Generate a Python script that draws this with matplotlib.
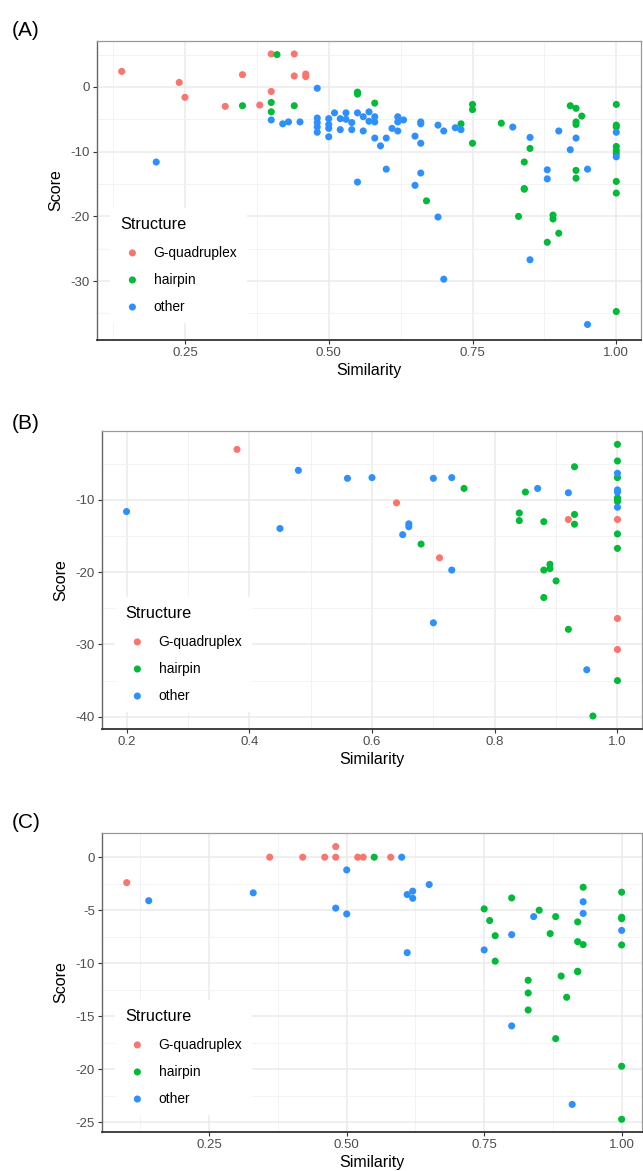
import numpy as np
import matplotlib.pyplot as plt
from matplotlib.ticker import MultipleLocator

plt.rcParams['font.family'] = ['Liberation Sans', 'DejaVu Sans']
plt.rcParams['axes.unicode_minus'] = False

# panel A
a_gq_sim = [0.14, 0.24, 0.25, 0.32, 0.35, 0.38, 0.40, 0.40, 0.44, 0.44, 0.46, 0.46]
a_gq_score = [2.4, 0.7, -1.6, -3.0, 1.9, -2.8, 5.1, -0.7, 5.1, 1.7, 2.0, 1.6]
a_hp_sim = [0.41, 0.35, 0.40, 0.40, 0.44, 0.55, 0.55, 0.58, 0.75, 0.75, 0.75, 0.73, 0.80,
            0.67, 0.85, 0.84, 0.84, 0.84, 0.83, 0.89, 0.89, 0.88, 0.90, 0.92, 0.93, 0.94,
            0.93, 0.93, 0.93, 0.93, 1.00, 1.00, 1.00, 1.00, 1.00, 1.00, 1.00, 1.00, 1.00]
a_hp_score = [5.0, -2.9, -2.4, -3.85, -2.9, -0.8, -1.1, -2.5, -2.7, -3.5, -8.7, -5.7, -5.6,
              -17.6, -9.5, -11.6, -15.7, -15.8, -20.0, -19.8, -20.4, -24.0, -22.6, -2.9, -3.3, -4.5,
              -5.4, -5.8, -12.9, -14.1, -2.7, -5.9, -6.2, -9.2, -9.8, -10.3, -14.6, -16.4, -34.7]
a_ot_sim = [0.20, 0.48, 0.40, 0.42, 0.43, 0.45, 0.48, 0.48, 0.48, 0.48, 0.50, 0.50, 0.50,
            0.50, 0.51, 0.52, 0.52, 0.53, 0.53, 0.54, 0.54, 0.55, 0.56, 0.56, 0.55, 0.57,
            0.57, 0.58, 0.58, 0.58, 0.59, 0.60, 0.61, 0.62, 0.62, 0.62, 0.63, 0.60, 0.65,
            0.66, 0.66, 0.66, 0.66, 0.65, 0.69, 0.70, 0.72, 0.73, 0.69, 0.70, 0.82, 0.85,
            0.88, 0.88, 0.85, 0.90, 0.92, 0.93, 0.95, 0.95, 1.00, 1.00]
a_ot_score = [-11.6, -0.2, -5.1, -5.7, -5.4, -5.4, -4.8, -5.5, -6.2, -7.0, -4.9, -5.8, -6.4,
              -7.7, -4.0, -4.9, -6.6, -4.0, -5.0, -5.5, -6.6, -4.0, -4.6, -6.8, -14.7, -3.85,
              -5.3, -4.6, -5.4, -7.9, -9.1, -7.9, -6.4, -4.6, -5.4, -6.8, -5.1, -12.7, -7.6,
              -5.4, -5.7, -8.7, -13.3, -15.2, -5.9, -6.8, -6.3, -6.6, -20.1, -29.7, -6.2, -7.8,
              -12.8, -14.2, -26.7, -6.8, -9.7, -7.9, -12.7, -36.7, -7.0, -10.8]

# panel B
b_gq_sim = [0.38, 0.64, 0.71, 0.92, 1.00, 1.00, 1.00]
b_gq_score = [-3.0, -10.4, -18.0, -12.7, -12.7, -26.4, -30.7]
b_hp_sim = [0.75, 0.68, 0.85, 0.93, 0.84, 0.84, 0.88, 0.93, 0.93, 0.89, 0.89, 0.88, 0.90,
            0.88, 0.92, 0.96, 1.00, 1.00, 1.00, 1.00, 1.00, 1.00, 1.00, 1.00, 1.00]
b_hp_score = [-8.4, -16.1, -8.9, -5.4, -11.8, -12.85, -13.0, -12.0, -13.35, -18.9, -19.5, -19.7, -21.2,
              -23.5, -27.9, -39.9, -2.3, -4.6, -6.9, -9.7, -10.0, -10.2, -14.7, -16.7, -35.0]
b_ot_sim = [0.20, 0.48, 0.45, 0.56, 0.60, 0.70, 0.73, 0.66, 0.66, 0.65, 0.73, 0.70, 0.87,
            0.92, 0.95, 1.00, 1.00, 1.00, 1.00]
b_ot_score = [-11.6, -5.9, -13.95, -7.0, -6.9, -7.0, -6.9, -13.3, -13.7, -14.8, -19.7, -27.0, -8.4,
              -9.0, -33.5, -6.3, -8.6, -8.9, -11.0]

# panel C
c_gq_sim = [0.10, 0.36, 0.42, 0.46, 0.48, 0.48, 0.52, 0.53, 0.58]
c_gq_score = [-2.4, 0, 0, 0, 0, 1.0, 0, 0, 0]
c_hp_sim = [0.55, 0.75, 0.76, 0.77, 0.77, 0.80, 0.85, 0.83, 0.83, 0.83, 0.88, 0.87, 0.88,
            0.89, 0.90, 0.93, 0.92, 0.92, 0.93, 0.92, 0.92, 1.00, 1.00, 1.00, 1.00, 1.00, 1.00]
c_hp_score = [0, -4.87, -5.97, -7.4, -9.8, -3.84, -5.0, -11.6, -12.8, -14.4, -5.6, -7.2, -17.1,
              -11.2, -13.2, -2.83, -6.1, -7.96, -8.24, -10.75, -10.8, -3.3, -5.66, -5.8, -8.27, -19.7, -24.7]
c_ot_sim = [0.14, 0.33, 0.50, 0.48, 0.50, 0.60, 0.65, 0.61, 0.62, 0.62, 0.61, 0.75, 0.80,
            0.80, 0.84, 0.93, 0.93, 0.91, 1.00]
c_ot_score = [-4.1, -3.36, -1.2, -4.8, -5.35, 0, -2.58, -3.52, -3.2, -3.87, -9.0, -8.74, -7.3,
              -15.9, -5.6, -4.2, -5.3, -23.3, -6.9]

structures = ['G-quadruplex', 'hairpin', 'other']
colors = ['#F8766D', '#00BA38', '#2E90FF']

W, H = 643, 1171
fig = plt.figure(figsize=(W / 100, H / 100), dpi=100)


def panel(rect, label, label_y, data, xlim, ylim, xmaj, ymaj, xfmt):
    l, t, r, b = rect
    ax = fig.add_axes([l / W, 1 - b / H, (r - l) / W, (b - t) / H])
    for (sim, score), name, c in zip(data, structures, colors):
        ax.scatter(sim, score, s=26, color=c, edgecolors='none', label=name, zorder=3)
    ax.set_xlim(xlim)
    ax.set_ylim(ylim)
    ax.xaxis.set_major_locator(MultipleLocator(xmaj))
    ax.xaxis.set_minor_locator(MultipleLocator(xmaj / 2))
    ax.yaxis.set_major_locator(MultipleLocator(ymaj))
    ax.yaxis.set_minor_locator(MultipleLocator(ymaj / 2))
    ax.xaxis.set_major_formatter(xfmt)
    ax.grid(which='major', color='#EBEBEB', lw=1.1, zorder=0)
    ax.grid(which='minor', color='#F3F3F3', lw=0.7, zorder=0)
    ax.set_axisbelow(True)
    ax.tick_params(which='major', direction='out', length=3, width=0.8, color='#333333',
                   labelcolor='#4D4D4D', labelsize=9.5, pad=2)
    ax.tick_params(which='minor', length=0)
    for s in ['top', 'right']:
        ax.spines[s].set_color('#999999')
        ax.spines[s].set_linewidth(0.9)
    ax.spines['left'].set_color('#666666')
    ax.spines['left'].set_linewidth(1.0)
    ax.spines['bottom'].set_color('#333333')
    ax.spines['bottom'].set_linewidth(1.3)
    ax.set_xlabel('Similarity', fontsize=11.5, labelpad=3)
    ax.set_ylabel('Score', fontsize=11.5, labelpad=5)
    leg = ax.legend(title='Structure', loc='lower left', bbox_to_anchor=(0.012, 0.033),
                    fontsize=9.9, title_fontsize=11.7, frameon=True, fancybox=False,
                    markerscale=1.0, handletextpad=0.65, labelspacing=0.95,
                    borderpad=0.7, handlelength=1.8)
    leg.get_frame().set_edgecolor('none')
    leg.get_frame().set_facecolor('white')
    leg.get_frame().set_alpha(1)
    leg._legend_box.align = 'left'
    fig.text(12 / W, 1 - label_y / H, label, fontsize=15, va='center', ha='left')
    return ax


fmt2 = lambda v, p: '%.2f' % v
fmt1 = lambda v, p: '%.1f' % v

panel((97, 41, 641, 340), '(A)', 30,
      [(a_gq_sim, a_gq_score), (a_hp_sim, a_hp_score), (a_ot_sim, a_ot_score)],
      (0.097, 1.043), (-39.1, 7.1), 0.25, 10, fmt2)
panel((102, 431, 642, 729), '(B)', 423,
      [(b_gq_sim, b_gq_score), (b_hp_sim, b_hp_score), (b_ot_sim, b_ot_score)],
      (0.16, 1.04), (-41.7, -0.45), 0.2, 10, fmt1)
panel((102, 833, 642, 1132), '(C)', 822,
      [(c_gq_sim, c_gq_score), (c_hp_sim, c_hp_score), (c_ot_sim, c_ot_score)],
      (0.055, 1.037), (-25.9, 2.28), 0.25, 5, fmt2)

fig.savefig('out.png', dpi=100)
